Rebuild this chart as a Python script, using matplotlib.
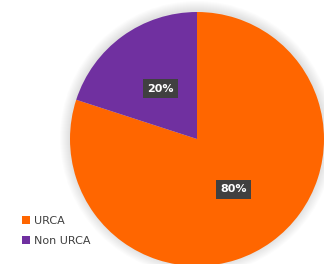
import matplotlib
matplotlib.use("Agg")
import matplotlib.pyplot as plt
from matplotlib.patches import Circle

categories = ["URCA", "Non URCA"]
values = [80, 20]
colors = ["#FF6600", "#7030A0"]

W, H = 324, 264
fig = plt.figure(figsize=(W / 100, H / 100), dpi=100)
ax = fig.add_axes([0, 0, 1, 1])
cx, cy, r = 197, H - 139, 127

# soft shadow
for i in range(10):
    ax.add_patch(Circle((cx, cy + 1), r + 10 - i, color="black", alpha=0.01, lw=0, zorder=0))

wedges, texts, autotexts = ax.pie(
    values, colors=colors, startangle=90, counterclock=False,
    center=(cx, cy), radius=r, autopct="%1.0f%%", pctdistance=0.49,
    wedgeprops=dict(linewidth=0), frame=True,
    textprops=dict(color="white", fontsize=8, fontweight="bold"))
for t in autotexts:
    t.set_bbox(dict(boxstyle="square,pad=0.4", fc="#404040", ec="none"))
    t.set_zorder(5)

ax.set_xlim(0, W)
ax.set_ylim(0, H)
ax.set_aspect("equal")
ax.axis("off")

leg = ax.legend(wedges, categories, loc="lower left", bbox_to_anchor=(12 / W, 8 / H),
                bbox_transform=fig.transFigure, frameon=False, fontsize=8,
                handlelength=0.7, handleheight=0.7, handletextpad=0.4, labelspacing=0.9,
                labelcolor="#404040")
fig.savefig("out.png", dpi=100)
